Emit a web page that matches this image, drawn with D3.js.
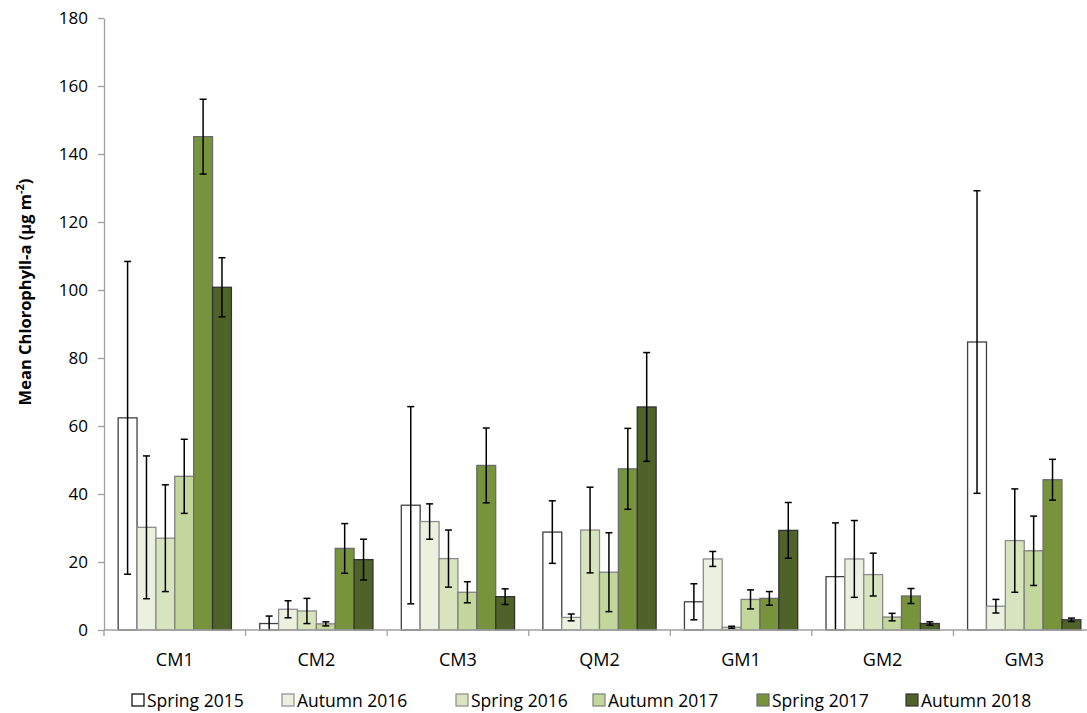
<!DOCTYPE html>
<html>
<head>
<meta charset="utf-8">
<script src="https://cdn.jsdelivr.net/npm/d3@7"></script>
<style>
  body { margin: 0; background: #fff; }
  text { font-family: "Open Sans", sans-serif; fill: #000; }
</style>
</head>
<body>
<div id="chart"></div>
<script>
// sites and sampling seasons
var sites = ['CM1', 'CM2', 'CM3', 'QM2', 'GM1', 'GM2', 'GM3'];
var seasons = ['Spring 2015', 'Autumn 2016', 'Spring 2016', 'Autumn 2017', 'Spring 2017', 'Autumn 2018'];

// mean chlorophyll-a per site, one array per season
var spring2015 = [62.4, 1.9, 36.7, 28.8, 8.3, 15.7, 84.7];
var autumn2016 = [30.2, 6.1, 31.9, 3.7, 20.9, 20.9, 7.0];
var spring2016 = [27.0, 5.6, 21.0, 29.4, 0.8, 16.3, 26.3];
var autumn2017 = [45.2, 1.8, 11.1, 17.0, 9.0, 3.8, 23.3];
var spring2017 = [145.1, 24.0, 48.4, 47.4, 9.3, 10.0, 44.2];
var autumn2018 = [100.8, 20.7, 9.8, 65.6, 29.3, 1.9, 3.0];

// error bar half-lengths
var spring2015Err = [46, 2.2, 29, 9.2, 5.3, 15.8, 44.5];
var autumn2016Err = [21, 2.5, 5.2, 1.0, 2.2, 11.3, 2.0];
var spring2016Err = [15.7, 3.7, 8.4, 12.6, 0.3, 6.3, 15.2];
var autumn2017Err = [10.9, 0.6, 3.1, 11.6, 2.8, 1.1, 10.2];
var spring2017Err = [11, 7.3, 11, 11.9, 2.0, 2.2, 6.0];
var autumn2018Err = [8.7, 6.0, 2.3, 16, 8.2, 0.5, 0.5];

var yTicks = [0, 20, 40, 60, 80, 100, 120, 140, 160, 180];

var fills = ['#ffffff', '#ebf1de', '#d7e4bd', '#c3d69b', '#77933c', '#4f6228'];
var strokes = ['#404040', '#8c8c8c', '#8c8c8c', '#7f7f7f', '#6b6b6b', '#333333'];

var meansList = [spring2015, autumn2016, spring2016, autumn2017, spring2017, autumn2018];
var errList = [spring2015Err, autumn2016Err, spring2016Err, autumn2017Err, spring2017Err, autumn2018Err];

var svgWidth = 1087, svgHeight = 713;
var plotLeft = 104, plotRight = 1095, plotTop = 18, plotBottom = 630;

// legend entry starts (layout only)
var legendX = [132, 282, 456, 593, 757, 906];

var svg = d3.select('#chart').append('svg')
  .attr('width', svgWidth)
  .attr('height', svgHeight);

// flat table for drawing
var rows = [];
sites.forEach(function(s, i) {
  seasons.forEach(function(z, j) {
    rows.push({site: s, season: z, si: j, mean: meansList[j][i], err: errList[j][i]});
  });
});

var x0 = d3.scaleBand().domain(sites).range([plotLeft, plotRight]).paddingInner(0.2).paddingOuter(0.1);
var x1 = d3.scaleBand().domain(seasons).range([0, x0.bandwidth()]).padding(0);
var y = d3.scaleLinear().domain([0, 180]).range([plotBottom, plotTop]);

// y axis
var yAxis = svg.append('g')
  .attr('transform', 'translate(' + plotLeft + ',0)')
  .call(d3.axisLeft(y).tickValues(yTicks).tickSize(6).tickSizeOuter(0).tickPadding(10));
yAxis.select('.domain').attr('stroke', '#a0a0a0').attr('stroke-width', 1.3);
yAxis.selectAll('.tick line').attr('stroke', '#a0a0a0').attr('stroke-width', 1.3);
yAxis.selectAll('.tick text').style('font-size', '17px').style('font-family', '"Open Sans", sans-serif').attr('fill', '#000');

// bars
svg.append('g').selectAll('rect')
  .data(rows)
  .enter()
  .append('rect')
  .attr('x', d => x0(d.site) + x1(d.season))
  .attr('y', d => y(d.mean))
  .attr('width', x1.bandwidth())
  .attr('height', d => y(0) - y(d.mean))
  .attr('fill', d => fills[d.si])
  .attr('stroke', d => strokes[d.si])
  .attr('stroke-width', 1.3);

// error bars
var cap = 3.5;
var eb = svg.append('g').attr('stroke', '#000').attr('stroke-width', 1.5);
rows.forEach(function(d) {
  var cx = x0(d.site) + x1(d.season) + x1.bandwidth() / 2;
  var yt = y(d.mean + d.err);
  var yb = y(Math.max(0, d.mean - d.err));
  eb.append('line').attr('x1', cx).attr('x2', cx).attr('y1', yt).attr('y2', yb);
  eb.append('line').attr('x1', cx - cap).attr('x2', cx + cap).attr('y1', yt).attr('y2', yt);
  if (d.mean - d.err > 0) {
    eb.append('line').attr('x1', cx - cap).attr('x2', cx + cap).attr('y1', yb).attr('y2', yb);
  }
});

// x axis with ticks between categories
var xg = svg.append('g');
xg.append('line')
  .attr('x1', plotLeft).attr('x2', plotRight)
  .attr('y1', plotBottom).attr('y2', plotBottom)
  .attr('stroke', '#a0a0a0').attr('stroke-width', 1.3);
var step = x0.step();
d3.range(sites.length + 1).forEach(function(i) {
  var xx = plotLeft + i * step;
  xg.append('line')
    .attr('x1', xx).attr('x2', xx)
    .attr('y1', plotBottom).attr('y2', plotBottom + 6)
    .attr('stroke', '#a0a0a0').attr('stroke-width', 1.3);
});
xg.selectAll('.site')
  .data(sites)
  .enter()
  .append('text')
  .attr('x', d => x0(d) + x0.bandwidth() / 2)
  .attr('y', 666)
  .attr('text-anchor', 'middle')
  .style('font-size', '18px')
  .text(d => d);

// y label
var yl = svg.append('text')
  .attr('transform', 'translate(31,292) rotate(-90)')
  .attr('text-anchor', 'middle')
  .style('font-size', '16.5px')
  .style('font-weight', 'bold');
yl.append('tspan').text('Mean Chlorophyll-a (µg m');
yl.append('tspan').attr('dy', -7).style('font-size', '11px').text('-2');
yl.append('tspan').attr('dy', 7).text(')');

// legend
var legend = svg.append('g');
seasons.forEach(function(s, i) {
  var g = legend.append('g').attr('transform', 'translate(' + legendX[i] + ',0)');
  g.append('rect')
    .attr('x', 0).attr('y', 694)
    .attr('width', 12).attr('height', 12)
    .attr('fill', fills[i])
    .attr('stroke', i === 0 ? '#000' : strokes[i])
    .attr('stroke-width', 1.2);
  g.append('text')
    .attr('x', 15).attr('y', 707)
    .style('font-size', '17.5px')
    .text(s);
});
</script>
</body>
</html>
